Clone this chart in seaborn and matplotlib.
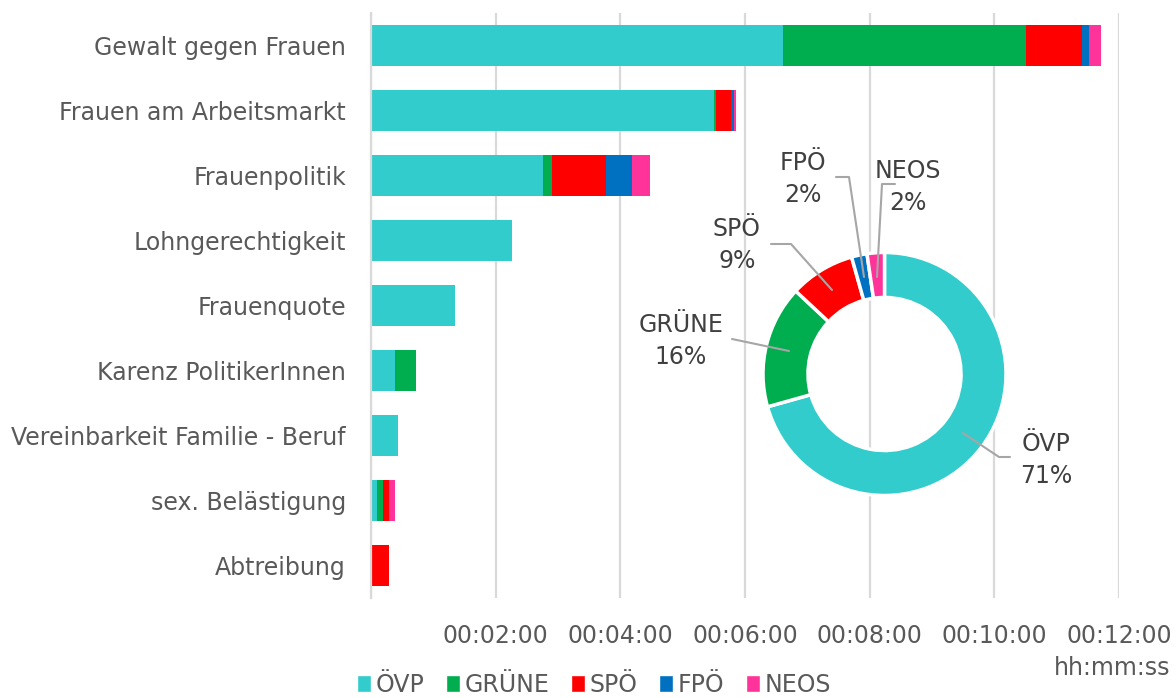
import matplotlib
matplotlib.use("Agg")
import matplotlib.pyplot as plt
from matplotlib.patches import Patch
import seaborn as sns
import pandas as pd

# speaking time per topic, in seconds
categories = [
    "Gewalt gegen Frauen",
    "Frauen am Arbeitsmarkt",
    "Frauenpolitik",
    "Lohngerechtigkeit",
    "Frauenquote",
    "Karenz PolitikerInnen",
    "Vereinbarkeit Familie - Beruf",
    "sex. Belästigung",
    "Abtreibung",
]
parties = ["ÖVP", "GRÜNE", "SPÖ", "FPÖ", "NEOS"]
oevp = [397, 330, 166, 136, 81, 23, 26, 6, 0]
gruene = [233, 2, 8, 0, 0, 20, 0, 6, 0]
spoe = [54, 15, 52, 0, 0, 0, 0, 5, 17]
fpoe = [7, 2, 25, 0, 0, 0, 0, 0, 0]
neos = [12, 2, 18, 0, 0, 0, 0, 6, 0]
x_ticks = [0, 120, 240, 360, 480, 600, 720]

colors = {
    "ÖVP": "#33CCCC",
    "GRÜNE": "#00AD4F",
    "SPÖ": "#FF0000",
    "FPÖ": "#0070C0",
    "NEOS": "#FF3399",
}
TEXT = "#595959"
GRID = "#D9D9D9"

sns.set_theme(style="white")
plt.rcParams["font.family"] = ["DejaVu Sans"]

df = pd.DataFrame({"category": categories, "ÖVP": oevp, "GRÜNE": gruene,
                   "SPÖ": spoe, "FPÖ": fpoe, "NEOS": neos})
cum = df[parties].cumsum(axis=1)

fig = plt.figure(figsize=(11.76, 6.98), dpi=100)
ax = fig.add_axes([371 / 1176, 1 - 598 / 698, 748 / 1176, 585 / 698])

# stacked bars: draw cumulative totals from the back to the front
for party in reversed(parties):
    sns.barplot(x=cum[party], y=df["category"], color=colors[party], orient="h",
                width=0.62, linewidth=0, saturation=1, ax=ax)

ax.set_xlim(0, 720)
ax.set_xticks(x_ticks)
ax.set_xticklabels(["" if t == 0 else f"00:{t // 60:02d}:00" for t in x_ticks])
ax.xaxis.grid(True, color=GRID, linewidth=1.6)
ax.set_axisbelow(True)
ax.set_xlabel("")
ax.set_ylabel("")
for side in ["top", "right", "bottom"]:
    ax.spines[side].set_visible(False)
ax.spines["left"].set_color(GRID)
ax.spines["left"].set_linewidth(1.6)
ax.tick_params(axis="x", length=0, pad=19, labelsize=17, labelcolor=TEXT)
ax.tick_params(axis="y", length=0, pad=18, labelsize=17, labelcolor=TEXT)

fig.text(1170 / 1176, 1 - 668 / 698, "hh:mm:ss", ha="right", va="center",
         fontsize=17, color=TEXT)

# donut of total time per party
totals = [sum(oevp), sum(gruene), sum(spoe), sum(fpoe), sum(neos)]
share = [round(100 * v / sum(totals)) for v in totals]

R = 121.5
ax2 = fig.add_axes([(884.5 - R) / 1176, 1 - (374 + R) / 698, 2 * R / 1176, 2 * R / 698])
ax2.pie(totals, colors=[colors[p] for p in parties], startangle=90, counterclock=False,
        radius=1, wedgeprops=dict(width=0.37, edgecolor="white", linewidth=2.5))
ax2.set_xlim(-1, 1)
ax2.set_ylim(-1, 1)
ax2.patch.set_alpha(0)


def px(x, y):
    return (x - 884.5) / R, -(y - 374) / R


# label positions and leader lines (pixel coords of the reference)
label_text = [(1046, 460), (681, 341), (737, 245), (803, 179), (908, 187)]
leaders = [
    [(963, 433), (999, 457), (1010, 457)],
    [(789, 351), (732, 339)],
    [(832, 290), (791, 244), (771, 244)],
    [(864, 277), (849, 177), (836, 177)],
    [(877, 277), (882, 184), (895, 184)],
]
for i, party in enumerate(parties):
    tx, ty = px(*label_text[i])
    ax2.text(tx, ty, f"{party}\n{share[i]}%", ha="center", va="center",
             fontsize=17, color="#404040", linespacing=1.4, clip_on=False)
    pts = [px(*p) for p in leaders[i]]
    ax2.plot([p[0] for p in pts], [p[1] for p in pts], color="#A6A6A6",
             linewidth=1.5, clip_on=False)

handles = [Patch(facecolor=colors[p], label=p) for p in parties]
fig.legend(handles=handles, loc="center left", bbox_to_anchor=(345 / 1176, 1 - 685 / 698),
           ncol=5, frameon=False, fontsize=17, labelcolor=TEXT, handlelength=0.6,
           handleheight=0.7, handletextpad=0.2, columnspacing=0.9, borderpad=0)

fig.savefig("out.png", dpi=100)
